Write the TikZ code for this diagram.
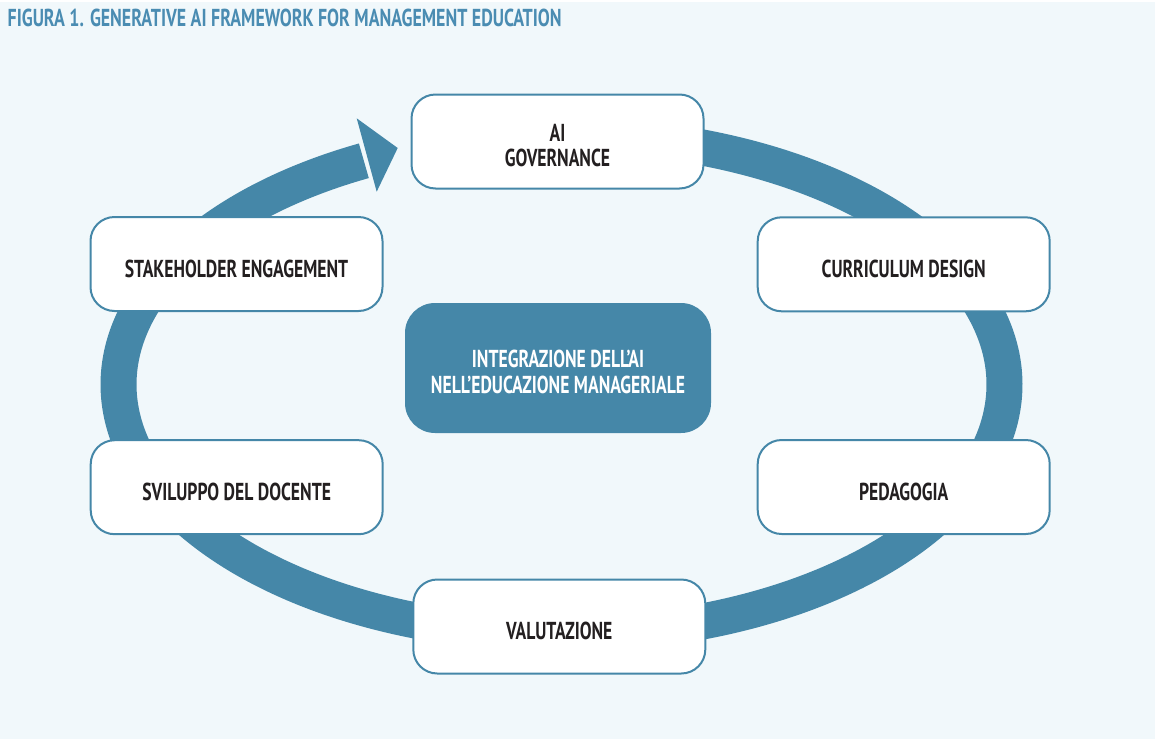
\documentclass[tikz,border=0pt]{standalone}
\usepackage{fontspec}
\setmainfont{PT Sans}
\newfontfamily\condfont{PT Sans}[FakeStretch=0.72]
\newfontfamily\titlefont{PT Sans}[FakeStretch=0.73]
\definecolor{ringblue}{HTML}{4587A8}
\definecolor{titleblue}{HTML}{4A8CB2}
\definecolor{bgblue}{HTML}{F1F8FB}
\definecolor{textdark}{HTML}{231F20}
\tikzset{
  stagebox/.style={draw=ringblue, line width=2, fill=white, rounded corners=24,
    minimum width=292, minimum height=94, inner sep=0},
  corebox/.style={fill=ringblue, rounded corners=30,
    minimum width=306, minimum height=130, inner sep=0},
  stagetext/.style={text=textdark, font=\condfont\bfseries\fontsize{24.5}{25}\selectfont,
    align=center, inner sep=0},
  coretext/.style={text=white, font=\condfont\bfseries\fontsize{24.5}{26}\selectfont,
    align=center, inner sep=0},
}
\begin{document}
\begin{tikzpicture}[x=1pt,y=-1pt]
\useasboundingbox (0,0) rectangle (1161,739);
\fill[white] (0,0) rectangle (1161,739);
\fill[bgblue] (0,2) rectangle (1155,739);

% title
\node[anchor=base west, inner sep=0, text=titleblue,
  font=\titlefont\bfseries\fontsize{24.5}{25}\selectfont] (title) at (7.5,26)
  {FIGURA 1. GENERATIVE AI FRAMEWORK FOR MANAGEMENT EDUCATION};

% ring
\draw[ringblue, line width=36, line cap=butt]
  plot[domain=-243.5:80, samples=240, smooth]
  ({561.5+443*cos(\x)},{384.5-250*sin(\x)});
\coordinate (tipA) at (356.7,118.3);
\coordinate (tipB) at (397.7,148);
\coordinate (tipC) at (376.7,191.7);
\fill[ringblue] (tipA) -- (tipB) -- (tipC) -- cycle;

% boxes
\node[stagebox] (gov) at (557.5,141.5) {};
\node[stagebox] (stake) at (236.5,264) {};
\node[stagebox] (curr) at (903.7,264.3) {};
\node[stagebox] (svil) at (236.7,487.2) {};
\node[stagebox] (ped) at (903.7,487) {};
\node[stagebox] (val) at (559.3,626.5) {};
\node[corebox] (core) at (558,368) {};

% texts
\node[stagetext] (govt) at ([yshift=-4.5]gov.center) {AI\\GOVERNANCE};
\node[stagetext] (staket) at ([yshift=-4.5]stake.center) {STAKEHOLDER ENGAGEMENT};
\node[stagetext] (currt) at ([yshift=-4.5]curr.center) {CURRICULUM DESIGN};
\node[stagetext] (svilt) at ([yshift=-4.5]svil.center) {SVILUPPO DEL DOCENTE};
\node[stagetext] (pedt) at ([yshift=-4.5]ped.center) {PEDAGOGIA};
\node[stagetext] (valt) at ([yshift=-4.5]val.center) {VALUTAZIONE};
\node[coretext] (coret) at ([yshift=-4]core.center) {INTEGRAZIONE DELL’AI\\NELL’EDUCAZIONE MANAGERIALE};
\end{tikzpicture}
\end{document}
